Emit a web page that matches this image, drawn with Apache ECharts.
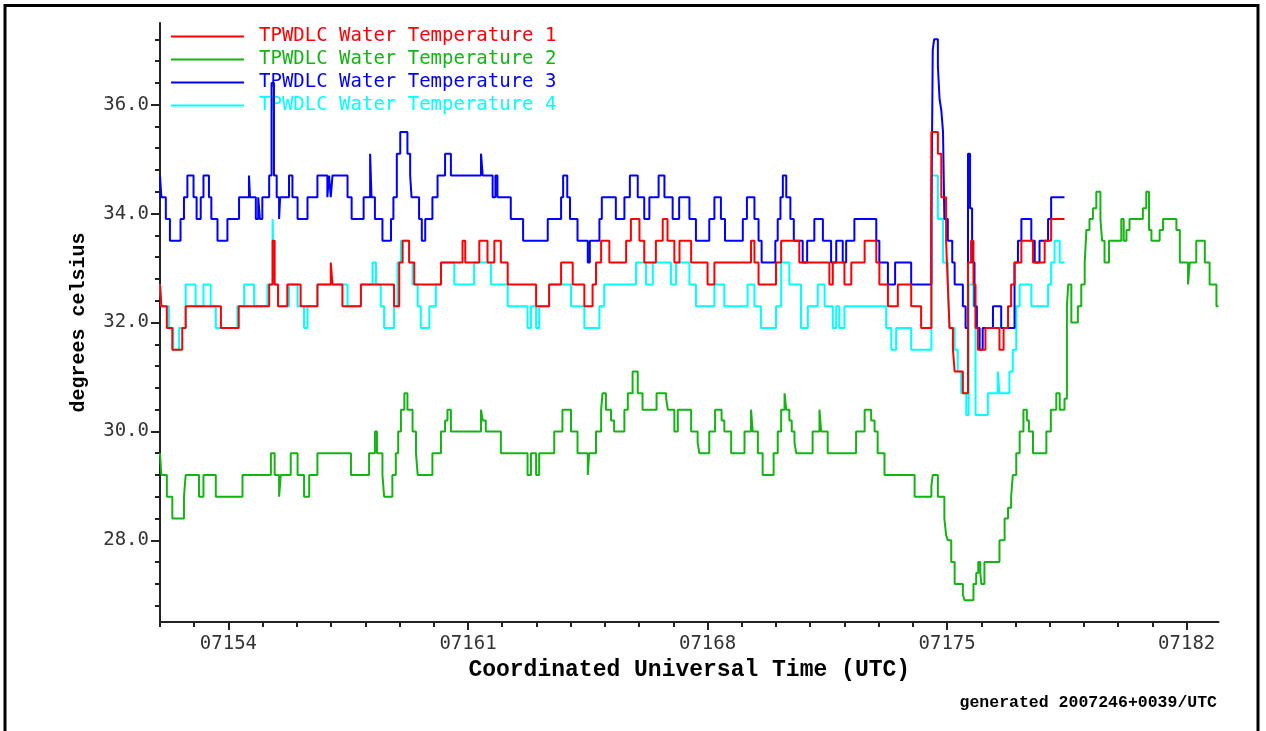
<!DOCTYPE html>
<html>
<head>
<meta charset="utf-8">
<script src="https://cdn.jsdelivr.net/npm/echarts@6/dist/echarts.min.js"></script>
<style>
  html, body { margin: 0; padding: 0; background: #fff; }
  #chart { width: 1266px; height: 731px; }
</style>
</head>
<body>
<div id="chart"></div>
<script>
// day-of-year (2007) vs water temperature, value holds until the next point
const names = [
  'TPWDLC Water Temperature 1',
  'TPWDLC Water Temperature 2',
  'TPWDLC Water Temperature 3',
  'TPWDLC Water Temperature 4'
];
const colors = ['#ff0000', '#14b414', '#0000ff', '#00ffff'];

const temp1 = [
  [152.00,32.7],[152.04,32.3],[152.20,31.9],[152.36,31.5],[152.65,31.9],[152.75,32.3],[153.78,31.9],[154.30,32.3],
  [155.19,32.7],[155.29,33.5],[155.35,32.7],[155.45,32.3],[155.72,32.7],[156.11,32.3],[156.60,32.7],[156.99,33.1],
  [157.04,32.7],[157.33,32.3],[157.87,32.7],[158.84,32.3],[158.99,33.1],[159.09,33.5],[159.28,33.1],[159.43,32.7],
  [160.21,33.1],[160.84,33.5],[160.92,33.1],[161.33,33.5],[161.57,33.1],[161.77,33.5],[161.96,33.1],[162.16,32.7],
  [162.99,32.3],[163.37,32.7],[163.72,33.1],[164.06,32.7],[164.40,32.3],[164.64,32.7],[164.74,33.1],[164.89,33.5],
  [165.13,33.1],[165.62,33.5],[165.76,33.9],[166.01,33.5],[166.15,33.1],[166.49,33.5],[166.69,33.9],[166.83,33.5],
  [167.03,33.1],[167.18,33.5],[167.52,33.1],[168.00,32.7],[168.20,33.1],[169.27,33.5],[169.37,33.1],[169.49,32.7],
  [170.00,33.1],[170.15,33.5],[170.68,33.1],[171.56,32.7],[171.66,33.1],[172.00,32.7],[172.20,33.1],[172.59,33.5],
  [172.93,33.1],[173.02,32.7],[173.27,32.3],[173.56,32.7],[173.95,32.3],[174.24,31.9],[174.54,35.5],[174.73,35.1],
  [174.83,34.3],[174.97,33.5],[175.02,32.7],[175.07,31.9],[175.17,31.5],[175.22,31.1],[175.46,30.7],[175.61,33.1],
  [175.70,33.5],[175.77,32.7],[175.83,31.9],[175.90,31.5],[176.12,31.9],[176.53,31.5],[176.65,31.9],[176.78,32.3],
  [176.87,32.7],[176.97,33.1],[177.17,33.5],[177.51,33.1],[177.85,33.5],[178.04,33.9],[178.43,33.9]
];

const temp2 = [
  [152.00,29.6],[152.04,29.2],[152.20,28.8],[152.36,28.4],[152.70,28.8],[152.75,29.2],[153.14,28.8],[153.27,29.2],
  [153.63,28.8],[154.41,29.2],[155.24,29.6],[155.35,29.2],[155.48,28.8],[155.53,29.2],[155.82,29.6],[156.02,29.2],
  [156.21,28.8],[156.36,29.2],[156.60,29.6],[157.58,29.2],[158.11,29.6],[158.28,30.0],[158.34,29.6],[158.50,29.2],
  [158.55,28.8],[158.79,29.2],[158.89,29.6],[158.96,30.0],[159.04,30.4],[159.14,30.7],[159.23,30.4],[159.38,30.0],
  [159.48,29.6],[159.53,29.2],[159.96,29.6],[160.21,30.0],[160.33,30.2],[160.40,30.4],[160.50,30.0],[161.38,30.4],
  [161.43,30.2],[161.52,30.0],[161.96,29.6],[162.74,29.2],[162.84,29.6],[162.99,29.2],[163.08,29.6],[163.52,30.0],
  [163.76,30.4],[164.01,30.0],[164.20,29.6],[164.50,29.2],[164.54,29.6],[164.74,30.0],[164.89,30.4],[164.93,30.7],
  [165.03,30.4],[165.18,30.2],[165.27,30.0],[165.57,30.4],[165.67,30.7],[165.81,31.1],[165.96,30.7],[166.10,30.4],
  [166.51,30.7],[166.79,30.6],[166.84,30.4],[167.03,30.0],[167.13,30.4],[167.52,30.0],[167.71,29.8],[167.76,29.6],
  [168.05,30.0],[168.22,30.4],[168.41,30.2],[168.49,30.0],[168.69,29.6],[169.08,30.0],[169.27,30.4],[169.32,30.0],
  [169.47,29.6],[169.61,29.2],[169.93,29.6],[170.05,30.0],[170.15,30.4],[170.25,30.7],[170.30,30.4],[170.39,30.2],
  [170.46,30.0],[170.54,29.8],[170.59,29.6],[171.07,30.0],[171.27,30.4],[171.32,30.0],[171.51,29.6],[172.34,30.0],
  [172.59,30.4],[172.78,30.2],[172.88,30.0],[172.97,29.6],[173.17,29.2],[174.05,28.8],[174.54,29.0],[174.58,29.2],
  [174.73,28.8],[174.92,28.4],[174.97,28.1],[175.02,28.0],[175.12,27.6],[175.22,27.2],[175.46,27.0],[175.51,26.9],
  [175.77,27.2],[175.85,27.4],[175.91,27.6],[175.97,27.4],[176.00,27.2],[176.09,27.6],[176.53,28.0],[176.68,28.4],
  [176.78,28.6],[176.87,28.8],[176.92,29.2],[177.02,29.6],[177.12,30.0],[177.23,30.4],[177.33,30.2],[177.39,30.0],
  [177.51,29.6],[177.90,30.0],[178.03,30.4],[178.19,30.7],[178.29,30.4],[178.43,30.6],[178.50,32.3],[178.54,32.7],
  [178.63,32.0],[178.82,32.3],[178.92,32.7],[179.02,33.1],[179.07,33.7],[179.16,33.9],[179.26,34.1],[179.36,34.4],
  [179.48,33.9],[179.53,33.5],[179.60,33.1],[179.73,33.5],[180.09,33.9],[180.16,33.5],[180.24,33.7],[180.33,33.9],
  [180.72,34.1],[180.82,34.4],[180.90,33.7],[180.97,33.5],[181.21,33.7],[181.31,33.9],[181.70,33.7],[181.80,33.1],
  [182.04,32.7],[182.09,33.1],[182.28,33.5],[182.53,33.1],[182.67,32.7],[182.87,32.3],[182.93,32.3]
];

const temp3 = [
  [152.00,34.7],[152.04,34.3],[152.17,33.9],[152.29,33.5],[152.60,33.9],[152.70,34.3],[152.80,34.7],[152.98,34.3],
  [153.07,33.9],[153.19,34.3],[153.27,34.7],[153.43,34.3],[153.50,33.9],[153.68,33.5],[153.97,33.9],[154.31,34.3],
  [154.60,34.7],[154.63,34.3],[154.80,33.9],[154.87,34.3],[154.92,33.9],[154.99,34.3],[155.19,34.7],[155.26,36.4],
  [155.33,34.7],[155.41,34.3],[155.48,33.9],[155.51,34.3],[155.77,34.7],[155.87,34.3],[156.02,33.9],[156.31,34.3],
  [156.60,34.7],[156.89,34.3],[156.94,34.7],[156.99,34.3],[157.04,34.7],[157.48,34.3],[157.60,33.9],[157.95,34.3],
  [158.14,35.1],[158.18,34.3],[158.28,33.9],[158.50,33.5],[158.75,33.9],[158.82,34.3],[158.92,35.1],[159.02,35.5],
  [159.23,35.1],[159.31,34.7],[159.35,34.3],[159.57,33.9],[159.65,33.5],[159.75,33.9],[159.96,34.3],[160.11,34.7],
  [160.33,35.1],[160.50,34.7],[161.38,35.1],[161.43,34.7],[161.72,34.3],[161.80,34.7],[161.86,34.3],[162.25,33.9],
  [162.61,33.5],[163.33,33.9],[163.72,34.3],[163.78,34.7],[163.90,34.3],[163.98,33.9],[164.20,33.5],[164.50,33.1],
  [164.56,33.5],[164.84,33.9],[164.91,34.3],[165.32,33.9],[165.57,34.3],[165.73,34.7],[165.96,34.3],[166.15,33.9],
  [166.30,34.3],[166.57,34.7],[166.74,34.3],[166.98,33.9],[167.17,34.3],[167.47,33.9],[167.66,33.5],[168.05,33.9],
  [168.20,34.3],[168.39,33.9],[168.51,33.5],[169.03,33.9],[169.15,34.3],[169.37,33.9],[169.49,33.5],[169.58,33.1],
  [169.98,33.5],[170.05,33.9],[170.13,34.3],[170.20,34.7],[170.30,34.3],[170.42,33.9],[170.52,33.5],[170.78,33.1],
  [170.91,33.5],[171.12,33.9],[171.37,33.5],[171.61,33.1],[171.76,33.5],[171.95,33.1],[172.05,33.5],[172.29,33.9],
  [172.93,33.5],[173.02,33.1],[173.27,32.7],[173.48,33.1],[173.95,32.7],[174.54,33.9],[174.58,37.0],[174.62,37.2],
  [174.73,36.7],[174.78,36.1],[174.83,35.9],[174.88,35.5],[174.92,33.9],[175.02,33.5],[175.15,33.1],[175.22,32.7],
  [175.46,32.3],[175.54,31.9],[175.61,35.1],[175.67,34.1],[175.73,33.1],[175.80,32.3],[175.87,31.9],[175.95,31.5],
  [176.04,31.9],[176.34,32.3],[176.58,31.9],[176.97,33.1],[177.07,33.5],[177.17,33.9],[177.46,33.5],[177.56,33.1],
  [177.70,33.5],[177.95,33.9],[178.04,34.3],[178.43,34.3]
];

const temp4 = [
  [152.00,32.7],[152.04,32.3],[152.26,31.9],[152.39,31.5],[152.56,31.9],[152.75,32.7],[153.04,32.3],[153.27,32.7],
  [153.48,32.3],[153.63,31.9],[154.26,32.3],[154.46,32.7],[154.75,32.3],[155.14,32.7],[155.29,33.9],[155.33,32.7],
  [155.45,32.3],[155.77,32.7],[156.02,32.3],[156.21,31.9],[156.31,32.3],[156.60,32.7],[157.48,32.3],[157.87,32.7],
  [158.21,33.1],[158.31,32.7],[158.45,32.3],[158.55,31.9],[158.84,32.3],[158.94,33.1],[159.04,33.5],[159.28,33.1],
  [159.38,32.7],[159.53,32.3],[159.62,31.9],[159.87,32.3],[160.06,32.7],[160.21,33.1],[160.60,32.7],[161.18,33.1],
  [161.67,32.7],[162.16,32.3],[162.74,31.9],[162.84,32.3],[162.99,31.9],[163.08,32.3],[163.37,32.7],[164.01,32.3],
  [164.40,31.9],[164.84,32.3],[164.98,32.7],[165.91,33.1],[166.20,32.7],[166.40,33.1],[166.93,32.7],[167.08,33.1],
  [167.47,32.7],[167.66,32.3],[168.20,32.7],[168.49,32.3],[169.17,32.7],[169.37,32.3],[169.56,31.9],[170.00,32.3],
  [170.15,33.1],[170.39,32.7],[170.73,31.9],[170.93,32.3],[171.22,32.7],[171.42,32.3],[171.66,31.9],[171.76,32.3],
  [171.85,31.9],[172.00,32.3],[173.22,31.9],[173.37,31.5],[173.51,31.9],[173.95,31.5],[174.54,34.7],[174.73,33.9],
  [174.88,33.1],[175.02,32.7],[175.07,31.9],[175.22,31.5],[175.31,31.1],[175.41,30.7],[175.56,30.3],[175.63,32.7],
  [175.77,32.3],[175.83,30.3],[176.19,30.7],[176.48,31.1],[176.53,30.7],[176.82,31.1],[176.92,31.5],[177.02,32.3],
  [177.12,32.7],[177.46,32.3],[177.95,32.7],[178.04,33.1],[178.14,33.5],[178.29,33.1],[178.43,33.1]
];

const allTemps = [temp1, temp2, temp3, temp4];

// axis ticks
const dayTicks = [152,153,154,155,156,157,158,159,160,161,162,163,164,165,166,167,
                  168,169,170,171,172,173,174,175,176,177,178,179,180,181,182];
const dayLabels = [154, 161, 168, 175, 182];
const tempTicks = [26.8,27.2,27.6,28.0,28.4,28.8,29.2,29.6,30.0,30.4,30.8,31.2,31.6,32.0,
                   32.4,32.8,33.2,33.6,34.0,34.4,34.8,35.2,35.6,36.0,36.4,36.8,37.2];
const tempLabels = [28, 30, 32, 34, 36];

const axisColor = '#222';
const labelFont = 'DejaVu Sans Mono';
const zOrder = [8, 5, 6, 4];

const chart = echarts.init(document.getElementById('chart'), null, { renderer: 'canvas' });

chart.setOption({
  animation: false,
  backgroundColor: '#fff',
  grid: { left: 160, right: 47.5, top: 23, bottom: 109 },
  legend: {
    orient: 'vertical',
    left: 171,
    top: 27,
    padding: 0,
    icon: 'rect',
    itemWidth: 73,
    itemHeight: 2,
    itemGap: 4,
    data: names.map((n, i) => ({ name: n, textStyle: { color: colors[i] } })),
    textStyle: { fontFamily: labelFont, fontSize: 19, padding: [0, 0, 0, 10] }
  },
  xAxis: [
    {
      type: 'value', min: 152, max: 182.93, position: 'bottom',
      axisLine: { onZero: false, lineStyle: { color: axisColor, width: 2 } },
      axisTick: { customValues: dayTicks, length: 5, lineStyle: { color: axisColor, width: 2 } },
      axisLabel: { show: false },
      splitLine: { show: false }
    },
    {
      type: 'value', min: 152, max: 182.93, position: 'bottom',
      axisLine: { show: false, onZero: false },
      axisTick: { customValues: dayLabels, length: 8, lineStyle: { color: axisColor, width: 2 } },
      axisLabel: {
        customValues: dayLabels, margin: 13,
        formatter: v => '07' + v,
        color: '#333', fontFamily: labelFont, fontSize: 19
      },
      splitLine: { show: false },
      name: 'Coordinated Universal Time (UTC)',
      nameLocation: 'middle', nameGap: 34,
      nameTextStyle: { color: '#000', fontFamily: 'Liberation Mono', fontWeight: 'bold', fontSize: 23 }
    }
  ],
  yAxis: [
    {
      type: 'value', min: 26.5, max: 37.5, position: 'left',
      axisLine: { show: true, onZero: false, lineStyle: { color: axisColor, width: 2 } },
      axisTick: { show: true, customValues: tempTicks, length: 5, lineStyle: { color: axisColor, width: 2 } },
      axisLabel: { show: false },
      splitLine: { show: false }
    },
    {
      type: 'value', min: 26.5, max: 37.5, position: 'left',
      axisLine: { show: false, onZero: false },
      axisTick: { show: true, customValues: tempLabels, length: 9, lineStyle: { color: axisColor, width: 2 } },
      axisLabel: {
        customValues: tempLabels, margin: 11,
        formatter: v => v.toFixed(1),
        color: '#333', fontFamily: labelFont, fontSize: 19
      },
      splitLine: { show: false },
      name: 'degrees celsius',
      nameLocation: 'middle', nameRotate: 90, nameGap: 71,
      nameTextStyle: { color: '#000', fontFamily: 'Liberation Mono', fontWeight: 'bold', fontSize: 20 }
    }
  ],
  series: allTemps.map((d, i) => ({
    name: names[i],
    type: 'line',
    step: 'end',
    xAxisIndex: 0,
    yAxisIndex: 0,
    data: d,
    z: zOrder[i],
    symbol: 'none',
    showSymbol: false,
    color: colors[i],
    lineStyle: { color: colors[i], width: 2 }
  })),
  graphic: [
    {
      type: 'rect', silent: true,
      shape: { x: 5, y: 5.5, width: 1253, height: 760 },
      style: { fill: 'none', stroke: '#000', lineWidth: 3 }
    },
    {
      type: 'text', silent: true, x: 1217, y: 703,
      style: {
        text: 'generated 2007246+0039/UTC',
        align: 'right', verticalAlign: 'middle',
        font: 'bold 16.5px "Liberation Mono"', fill: '#000'
      }
    }
  ]
});
</script>
</body>
</html>
